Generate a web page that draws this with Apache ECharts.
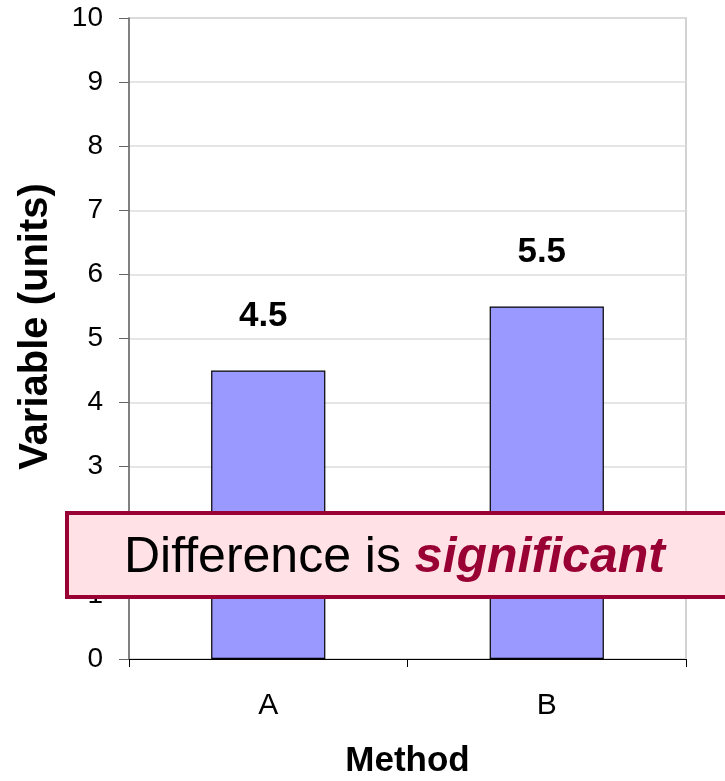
<!DOCTYPE html>
<html>
<head>
<meta charset="utf-8">
<script src="https://cdn.jsdelivr.net/npm/echarts@6/dist/echarts.min.js"></script>
<style>
  html, body { margin: 0; padding: 0; background: #fff; }
  #chart { width: 725px; height: 781px; }
</style>
</head>
<body>
<div id="chart"></div>
<script>
// Bar values and category labels
const categories = ['A', 'B'];
const values = [4.5, 5.5];
const yTicks = [0, 1, 2, 3, 4, 5, 6, 7, 8, 9, 10];

const font = '"Liberation Sans", Arial, sans-serif';
const chart = echarts.init(document.getElementById('chart'));

chart.setOption({
  animation: false,
  backgroundColor: '#ffffff',
  grid: {
    left: 129, right: 39, top: 18, bottom: 122,
    outerBoundsMode: 'none',
    show: true, borderColor: '#c4c4c4', borderWidth: 1.5
  },
  xAxis: {
    type: 'category',
    data: categories,
    name: 'Method',
    nameLocation: 'middle',
    nameGap: 85,
    nameTextStyle: { fontFamily: font, fontSize: 35, fontWeight: 'bold', color: '#000' },
    axisLine: { lineStyle: { color: '#000', width: 1 } },
    axisTick: { show: true, length: 8, lineStyle: { color: '#000' } },
    axisLabel: { fontFamily: font, fontSize: 30, color: '#000', margin: 32 },
    splitLine: { show: false }
  },
  yAxis: {
    type: 'value',
    min: yTicks[0],
    max: yTicks[yTicks.length - 1],
    interval: 1,
    name: 'Variable (units)',
    nameLocation: 'middle',
    nameGap: 73,
    nameTextStyle: {
      fontFamily: font, fontSize: 40, fontWeight: 'bold', color: '#000',
      padding: [0, 0, 0, 24]
    },
    axisLine: { show: true, lineStyle: { color: '#666', width: 1.5 } },
    axisTick: { show: true, inside: false, length: 10, lineStyle: { color: '#666' } },
    axisLabel: { fontFamily: font, fontSize: 28, color: '#000', margin: 26 },
    splitLine: { show: true, lineStyle: { color: '#dcdcdc', width: 1.5 } }
  },
  series: [{
    type: 'bar',
    data: values,
    barWidth: '41%',
    z: 2,
    itemStyle: { color: '#9999ff', borderColor: '#000', borderWidth: 1.2 },
    label: {
      show: true,
      position: 'top',
      distance: 37,
      offset: [-5, 0],
      fontFamily: font,
      fontSize: 35,
      fontWeight: 'bold',
      color: '#000',
      formatter: (p) => p.value.toFixed(1)
    }
  }],
  graphic: [
    {
      type: 'rect',
      z: 100,
      shape: { x: 67, y: 513, width: 680, height: 84 },
      style: { fill: '#ffe1e6', stroke: '#990033', lineWidth: 4 }
    },
    {
      type: 'text',
      z: 101,
      style: {
        x: 124, y: 558,
        text: '{n|Difference is }{s|significant}',
        verticalAlign: 'middle',
        rich: {
          n: { fontFamily: font, fontSize: 50, fill: '#000' },
          s: { fontFamily: font, fontSize: 50, fontWeight: 'bold', fontStyle: 'italic', fill: '#990033' }
        }
      }
    }
  ]
});
</script>
</body>
</html>
